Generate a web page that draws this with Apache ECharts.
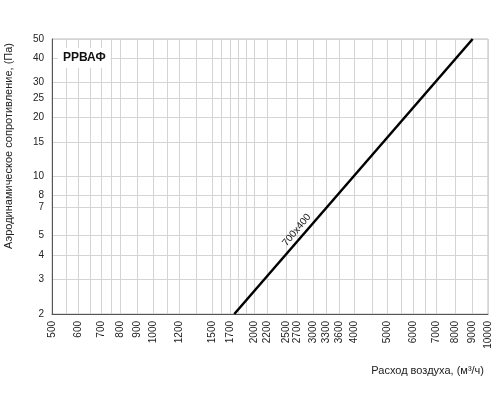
<!DOCTYPE html>
<html>
<head>
<meta charset="utf-8">
<script src="https://cdn.jsdelivr.net/npm/echarts@6/dist/echarts.min.js"></script>
<style>
  html, body { margin: 0; padding: 0; background: #fff; }
  #chart { width: 500px; height: 400px; }
</style>
</head>
<body>
<div id="chart"></div>
<script>
// tick labels
const xLabels = [500, 600, 700, 800, 900, 1000, 1200, 1500, 1700, 2000, 2200, 2500, 2700, 3000, 3300, 3600, 4000, 5000, 6000, 7000, 8000, 9000, 10000];
// unlabeled vertical grid lines
const xExtraLines = [550, 650, 750, 1100, 1350, 1600, 1800, 1900, 4500, 5500, 6500];
const yLabels = [2, 3, 4, 5, 7, 8, 10, 15, 20, 25, 30, 40, 50];

// 700x400 curve: flow (m3/h) vs pressure drop (Pa)
const flow = [1750, 9000];
const pressure = [2, 50];

const chart = echarts.init(document.getElementById('chart'));
const font = 'Liberation Sans, Arial, sans-serif';
const xLines = xLabels.concat(xExtraLines).sort((a, b) => a - b);

chart.setOption({
  animation: false,
  grid: { left: 52, right: 12, top: 39, bottom: 86, show: true, borderColor: '#bdbdbd', borderWidth: 1 },
  xAxis: {
    type: 'log', logBase: 10, min: 500, max: 10000,
    name: 'Расход воздуха, (м³/ч)', nameLocation: 'end',
    nameTextStyle: { color: '#222', fontSize: 11, fontFamily: font, align: 'right', verticalAlign: 'top', padding: [51, 0, 0, 0] },
    nameGap: -4,
    axisLine: { lineStyle: { color: '#555', width: 1 } },
    axisTick: { show: false, customValues: xLines },
    axisLabel: { customValues: xLabels, formatter: v => String(v), rotate: 90, color: '#222', fontSize: 10, fontFamily: font, margin: 7 },
    splitLine: { show: true, lineStyle: { color: '#d4d4d4', width: 1 } }
  },
  yAxis: {
    type: 'log', logBase: 10, min: 2, max: 50,
    axisLine: { show: true, lineStyle: { color: '#555', width: 1 } },
    axisTick: { show: false, customValues: yLabels },
    axisLabel: { customValues: yLabels, formatter: v => String(v), color: '#222', fontSize: 10, fontFamily: font, margin: 8 },
    splitLine: { show: true, lineStyle: { color: '#d4d4d4', width: 1 } }
  },
  graphic: [{
    type: 'text', left: 58, top: 48, z: 10,
    style: { text: 'РРВАФ', font: 'bold 12px ' + font, fill: '#111', backgroundColor: '#fff', padding: [4, 5] }
  }, {
    type: 'text', x: 9, y: 146, rotation: Math.PI / 2, z: 10,
    style: { text: 'Аэродинамическое сопротивление, (Па)', font: '11px ' + font, fill: '#222', align: 'center', verticalAlign: 'middle' }
  }],
  series: [{
    name: '700x400', type: 'line',
    data: flow.map((f, i) => [f, pressure[i]]),
    symbol: 'none',
    lineStyle: { color: '#000', width: 2.5 },
    markPoint: {
      symbol: 'circle', symbolSize: 2,
      itemStyle: { color: 'transparent' },
      data: [{ name: '700x400', coord: [2900, 5.5], value: 1 }],
      label: { show: true, position: 'inside', formatter: '700x400', rotate: 50, color: '#111', fontSize: 10, fontFamily: font, offset: [-9, -7] }
    }
  }]
});
</script>
</body>
</html>
